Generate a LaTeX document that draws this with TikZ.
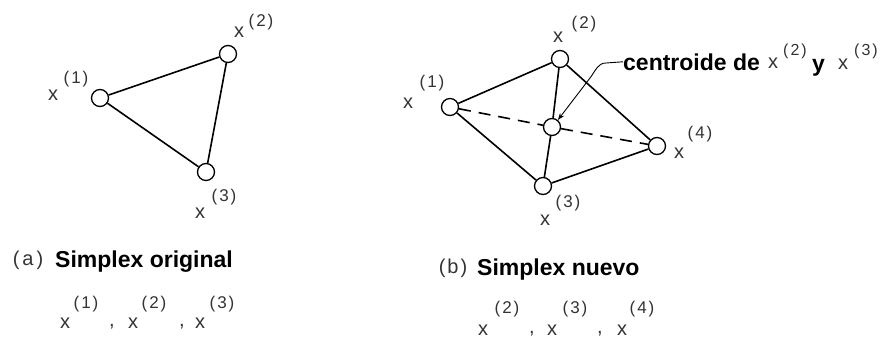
\documentclass[tikz,border=0pt]{standalone}
\usepackage{fontspec}
\setmainfont{Liberation Sans}
\usetikzlibrary{arrows.meta}
\newcommand{\Pnum}[1]{(\kern2pt#1\kern2pt)}
\tikzset{
  vtx/.style={circle,draw,line width=1.3pt,minimum size=17pt,inner sep=0pt},
  edge/.style={line width=1.6pt},
  dashedge/.style={line width=1.6pt,dash pattern=on 12pt off 8pt},
  xl/.style={font=\fontsize{20}{20}\selectfont,inner sep=0pt,text=black!80},
  supl/.style={font=\fontsize{17}{17}\selectfont,inner sep=0pt,text=black!80},
  boldtxt/.style={font=\fontsize{23}{23}\selectfont\bfseries,inner sep=0pt,anchor=base west},
  leader/.style={line width=0.9pt,-{Stealth[length=7pt,width=5pt]}},
}
\begin{document}
\begin{tikzpicture}[x=1pt,y=-1pt]
\useasboundingbox (0,0) rectangle (884,341);
% ---------- (a) original simplex
\node[vtx] (a1) at (100,98) {};
\node[vtx] (a2) at (228,54) {};
\node[vtx] (a3) at (206,172) {};
\draw[edge] (a1) -- (a2);
\draw[edge] (a2) -- (a3);
\draw[edge] (a3) -- (a1);
\node[xl] (la1x) at (53,95) {x};
\node[supl] (la1s) at (76,79) {\Pnum{1}};
\node[xl] (la2x) at (239,32) {x};
\node[supl] (la2s) at (261,22) {\Pnum{2}};
\node[xl] (la3x) at (200,213) {x};
\node[supl] (la3s) at (224,197) {\Pnum{3}};
% ---------- (b) new simplex
\node[vtx] (b1) at (450,107) {};
\node[vtx] (b2) at (560,59) {};
\node[vtx] (bc) at (552,127) {};
\node[vtx] (b4) at (657,146) {};
\node[vtx] (b3) at (543,186) {};
\draw[edge] (b1) -- (b2);
\draw[edge] (b2) -- (b4);
\draw[edge] (b4) -- (b3);
\draw[edge] (b3) -- (b1);
\draw[edge] (b2) -- (bc);
\draw[edge] (bc) -- (b3);
\draw[dashedge] (b1) -- (bc);
\draw[dashedge] (bc) -- (b4);
\node[xl] (lb1x) at (408,103) {x};
\node[supl] (lb1s) at (432,83) {\Pnum{1}};
\node[xl] (lb2x) at (558,37) {x};
\node[supl] (lb2s) at (584,24) {\Pnum{2}};
\node[xl] (lb3x) at (545,220) {x};
\node[supl] (lb3s) at (568,203) {\Pnum{3}};
\node[xl] (lb4x) at (679,153) {x};
\node[supl] (lb4s) at (700,134) {\Pnum{4}};
% centroid label
\node[boldtxt] (cl) at (623,70) {centroide de};
\node[xl] (clx2) at (773,63) {x};
\node[supl,font=\fontsize{16}{16}\selectfont] (cls2) at (795,51) {\Pnum{2}};
\node[boldtxt] (cly) at (812,71) {y};
\node[xl] (clx3) at (843,64) {x};
\node[supl,font=\fontsize{16}{16}\selectfont] (cls3) at (866,51) {\Pnum{3}};
\draw[leader] (cl.west) -- (606,63) .. controls (598,63) and (596,70) .. (590,78) -- (bc.50);
% captions
\node[xl] (capa) at (28,260) {(\kern3pt a\kern3pt)};
\node[boldtxt] (capat) at (55,267) {Simplex original};
\node[xl] (capb) at (453,268) {(\kern2pt b\kern2pt)};
\node[boldtxt] (capbt) at (477,275) {Simplex nuevo};
% bottom lists
\node[xl] (ba1) at (65,323) {x};
\node[supl] (ba1s) at (86,304) {\Pnum{1}};
\node[xl] (bac1) at (112,327) {,};
\node[xl] (ba2) at (133,323) {x};
\node[supl] (ba2s) at (154,304) {\Pnum{2}};
\node[xl] (bac2) at (182,327) {,};
\node[xl] (ba3) at (200,323) {x};
\node[supl] (ba3s) at (222,304) {\Pnum{3}};
\node[xl] (bb2) at (483,330) {x};
\node[supl] (bb2s) at (507,309) {\Pnum{2}};
\node[xl] (bbc1) at (532,334) {,};
\node[xl] (bb3) at (552,330) {x};
\node[supl] (bb3s) at (575,309) {\Pnum{3}};
\node[xl] (bbc2) at (600,334) {,};
\node[xl] (bb4) at (622,330) {x};
\node[supl] (bb4s) at (642,309) {\Pnum{4}};
\end{tikzpicture}
\end{document}
